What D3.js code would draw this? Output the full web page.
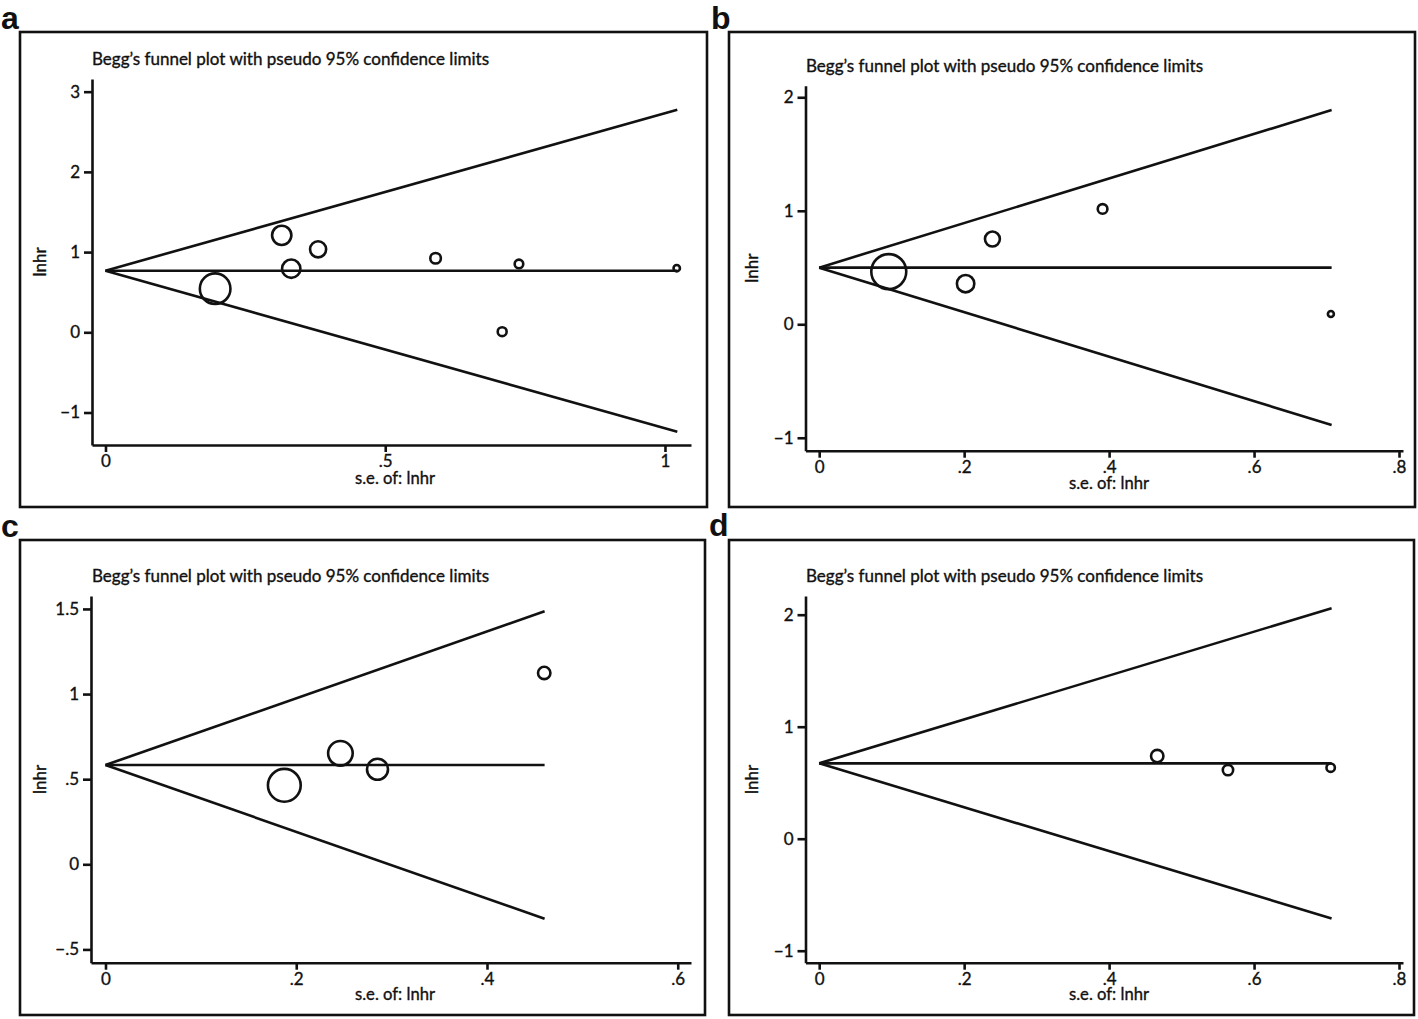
<!DOCTYPE html>
<html>
<head>
<meta charset="utf-8">
<script src="https://cdn.jsdelivr.net/npm/d3@7"></script>
<style>
  html, body { margin: 0; padding: 0; background: #fff; }
  svg { display: block; }
  text { font-family: Lato, "Open Sans", sans-serif; fill: #111; }
  .thick { stroke: #111; stroke-width: 0.35px; }
</style>
</head>
<body>
<svg id="chart" width="1418" height="1019"></svg>
<script>
// ---------------- DATA ----------------
const titleText = "Begg\u2019s funnel plot with pseudo 95% confidence limits";
const xAxisTitle = "s.e. of: lnhr";
const yAxisTitle = "lnhr";
const panelLetters = ["a", "b", "c", "d"];

// Panel a
const aSe    = [0.196, 0.315, 0.380, 0.332, 0.590, 0.739, 0.709, 1.021];
const aLnhr  = [0.544, 1.209, 1.035, 0.793, 0.923, 0.852, 0.008, 0.800];
const aPooled = 0.768;
const aSeMax = 1.022;
const aLimits = [-1.240, 2.775];
const aXTicks = [0, 0.5, 1];
const aYTicks = [-1, 0, 1, 2, 3];

// Panel b
const bSe    = [0.096, 0.202, 0.239, 0.391, 0.706];
const bLnhr  = [0.464, 0.358, 0.751, 1.016, 0.091];
const bPooled = 0.499;
const bSeMax = 0.707;
const bLimits = [-0.887, 1.887];
const bXTicks = [0, 0.2, 0.4, 0.6, 0.8];
const bYTicks = [-1, 0, 1, 2];

// Panel c
const cSe    = [0.1875, 0.2463, 0.2852, 0.460];
const cLnhr  = [0.464, 0.652, 0.558, 1.124];
const cPooled = 0.583;
const cSeMax = 0.4604;
const cLimits = [-0.320, 1.486];
const cXTicks = [0, 0.2, 0.4, 0.6];
const cYTicks = [-0.5, 0, 0.5, 1, 1.5];

// Panel d
const dSe    = [0.4664, 0.564, 0.7057];
const dLnhr  = [0.738, 0.613, 0.634];
const dPooled = 0.673;
const dSeMax = 0.707;
const dLimits = [-0.712, 2.058];
const dXTicks = [0, 0.2, 0.4, 0.6, 0.8];
const dYTicks = [-1, 0, 1, 2];

// ---------------- LAYOUT (styles / positions) ----------------
const layouts = {
  a: { box: [20, 32, 707, 507], plot: [92, 79, 691, 445], xDom: [-0.0241, 1.0465], yDom: [-1.405, 3.158],
       label: [1, 29], title: [92, 65], xTitle: [395, 484], yTitleX: 46, rRange: [3.2, 15.3] },
  b: { box: [729, 32, 1415, 507], plot: [805.5, 85.7, 1403, 450.7], xDom: [-0.0189, 0.8055], yDom: [-1.114, 2.102],
       label: [711, 29], title: [806, 72], xTitle: [1109, 489], yTitleX: 758, rRange: [3.0, 17.5] },
  c: { box: [20, 540, 705, 1015], plot: [91, 596, 691, 962.7], xDom: [-0.0152, 0.6139], yDom: [-0.578, 1.576],
       label: [1, 537], title: [92, 582], xTitle: [395, 1000], yTitleX: 46, rRange: [6.2, 16.4] },
  d: { box: [729, 540, 1414, 1015], plot: [805.5, 596, 1403, 962.7], xDom: [-0.0189, 0.8055], yDom: [-1.107, 2.167],
       label: [709, 536], title: [806, 582], xTitle: [1109, 1000], yTitleX: 758, rRange: [4.2, 6.2] }
};

const panelData = {
  a: { se: aSe, lnhr: aLnhr, pooled: aPooled, seMax: aSeMax, limits: aLimits, xTicks: aXTicks, yTicks: aYTicks },
  b: { se: bSe, lnhr: bLnhr, pooled: bPooled, seMax: bSeMax, limits: bLimits, xTicks: bXTicks, yTicks: bYTicks },
  c: { se: cSe, lnhr: cLnhr, pooled: cPooled, seMax: cSeMax, limits: cLimits, xTicks: cXTicks, yTicks: cYTicks },
  d: { se: dSe, lnhr: dLnhr, pooled: dPooled, seMax: dSeMax, limits: dLimits, xTicks: dXTicks, yTicks: dYTicks }
};

// Stata-like tick format: no leading zero, true minus sign
function stataFmt(v) {
  let s = String(+v.toFixed(3));
  s = s.replace(/^0\./, ".").replace(/^-0\./, "-.");
  return s.replace("-", "\u2212");
}

const svg = d3.select("#chart");
const LW = 2.6;

panelLetters.forEach(k => {
  const L = layouts[k], D = panelData[k];
  const g = svg.append("g");

  // outer frame
  g.append("rect")
    .attr("x", L.box[0]).attr("y", L.box[1])
    .attr("width", L.box[2] - L.box[0]).attr("height", L.box[3] - L.box[1])
    .attr("fill", "none").attr("stroke", "#111").attr("stroke-width", LW);

  // panel letter
  g.append("text")
    .attr("x", L.label[0]).attr("y", L.label[1])
    .style("font-family", "'Liberation Sans', Arial, sans-serif")
    .style("font-weight", "bold").style("font-size", "32px")
    .text(k);

  // title
  g.append("text")
    .attr("class", "thick")
    .attr("x", L.title[0]).attr("y", L.title[1])
    .attr("textLength", 397).attr("lengthAdjust", "spacingAndGlyphs")
    .style("font-size", "16.5px")
    .text(titleText);

  const x = d3.scaleLinear().domain(L.xDom).range([L.plot[0], L.plot[2]]);
  const y = d3.scaleLinear().domain(L.yDom).range([L.plot[3], L.plot[1]]);

  // axes
  const xAxis = d3.axisBottom(x).tickValues(D.xTicks).tickFormat(stataFmt)
    .tickSizeInner(7).tickSizeOuter(0).tickPadding(3);
  const yAxis = d3.axisLeft(y).tickValues(D.yTicks).tickFormat(stataFmt)
    .tickSizeInner(8).tickSizeOuter(0).tickPadding(4);

  const gx = g.append("g").attr("transform", `translate(0,${L.plot[3]})`).call(xAxis);
  const gy = g.append("g").attr("transform", `translate(${L.plot[0]},0)`).call(yAxis);
  [gx, gy].forEach(ax => {
    ax.select(".domain").attr("stroke", "#111").attr("stroke-width", LW);
    ax.selectAll(".tick line").attr("stroke", "#111").attr("stroke-width", LW);
    ax.selectAll(".tick text").attr("class", "thick")
      .style("font-family", "Lato, 'Open Sans', sans-serif")
      .style("font-size", "17px").attr("fill", "#111");
  });

  // axis titles
  g.append("text")
    .attr("class", "thick")
    .attr("x", L.xTitle[0]).attr("y", L.xTitle[1])
    .attr("text-anchor", "middle")
    .attr("textLength", 80).attr("lengthAdjust", "spacingAndGlyphs")
    .style("font-size", "17px")
    .text(xAxisTitle);

  const ymid = (L.plot[1] + L.plot[3]) / 2;
  g.append("text")
    .attr("class", "thick")
    .attr("transform", `translate(${L.yTitleX},${ymid}) rotate(-90)`)
    .attr("text-anchor", "middle")
    .style("font-size", "17px")
    .text(yAxisTitle);

  // funnel lines (pooled estimate and pseudo 95% limits)
  const lineGen = d3.line().x(d => x(d[0])).y(d => y(d[1]));
  const funnel = [
    [[0, D.pooled], [D.seMax, D.limits[1]]],
    [[0, D.pooled], [D.seMax, D.pooled]],
    [[0, D.pooled], [D.seMax, D.limits[0]]]
  ];
  g.append("g").selectAll("path").data(funnel).join("path")
    .attr("d", lineGen)
    .attr("fill", "none").attr("stroke", "#111").attr("stroke-width", LW)
    .attr("stroke-linejoin", "round");

  // study markers: size by precision (1/se)
  const pts = D.se.map((s, i) => ({ se: s, lnhr: D.lnhr[i], prec: 1 / s }));
  const r = d3.scaleLinear().domain(d3.extent(pts, p => p.prec)).range(L.rRange);
  g.append("g").selectAll("circle").data(pts).join("circle")
    .attr("cx", p => x(p.se)).attr("cy", p => y(p.lnhr))
    .attr("r", p => r(p.prec))
    .attr("fill", "none").attr("stroke", "#111").attr("stroke-width", LW);
});
</script>
</body>
</html>
